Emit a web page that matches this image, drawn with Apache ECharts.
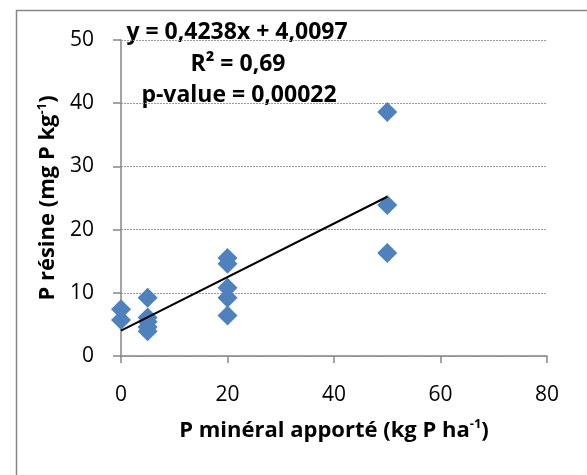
<!DOCTYPE html>
<html>
<head>
<meta charset="utf-8">
<script src="https://cdn.jsdelivr.net/npm/echarts@6/dist/echarts.min.js"></script>
<style>
  html, body { margin: 0; padding: 0; background: #fff; }
  #chart { width: 587px; height: 475px; }
</style>
</head>
<body>
<div id="chart"></div>
<script>
// P minéral apporté (kg P/ha) vs P résine (mg P/kg)
const doses = [0, 0, 5, 5, 5, 5, 5, 20, 20, 20, 20, 20, 50, 50, 50]
const pResine = [7.4, 5.7, 9.2, 6.1, 5.4, 4.6, 3.9, 15.5, 14.6, 10.8, 9.2, 6.4, 38.6, 23.9, 16.3]
const slope = 0.4238
const intercept = 4.0097
const trendX = [0, 50]
const yTicks = [0, 10, 20, 30, 40, 50]
const xTicks = [0, 20, 40, 60, 80]
const notes = ['y = 0,4238x + 4,0097', 'R² = 0,69', 'p-value = 0,00022']

const font = '"Open Sans", sans-serif'
const chart = echarts.init(document.getElementById('chart'))

const titleRich = {
  b: { fontFamily: font, fontWeight: 'bold', fontSize: 22, color: '#000' },
  sup: { fontFamily: font, fontWeight: 'bold', fontSize: 13, color: '#000', padding: [0, 0, 12, 0] },
}

const option = {
  animation: false,
  backgroundColor: '#fff',
  grid: { left: 121, right: 40, top: 40, bottom: 119 },
  xAxis: {
    type: 'value',
    min: xTicks[0],
    max: xTicks[xTicks.length - 1],
    interval: 20,
    name: '{b|P minéral apporté (kg P ha}{sup|-1}{b|)}',
    nameLocation: 'middle',
    nameGap: 62,
    nameTextStyle: { rich: titleRich },
    axisLine: { show: true, lineStyle: { color: '#868686', width: 1.5 } },
    axisTick: { show: true, length: 7, lineStyle: { color: '#868686', width: 1.5 } },
    axisLabel: { fontFamily: font, fontSize: 21, color: '#000', margin: 29 },
    splitLine: { show: false },
  },
  yAxis: {
    type: 'value',
    min: yTicks[0],
    max: yTicks[yTicks.length - 1],
    interval: 10,
    name: '{b|P résine (mg P kg}{sup|-1}{b|)}',
    nameLocation: 'middle',
    nameGap: 58,
    nameTextStyle: { rich: titleRich },
    axisLine: { show: true, lineStyle: { color: '#868686', width: 1.5 } },
    axisTick: { show: true, length: 8, lineStyle: { color: '#868686', width: 1.5 } },
    axisLabel: { fontFamily: font, fontSize: 21, color: '#000', margin: 27 },
    splitLine: { show: true, lineStyle: { color: '#9a9a9a', width: 1, type: [2, 1] } },
  },
  graphic: [
    {
      type: 'rect',
      shape: { x: 16.5, y: 10.5, width: 600, height: 500 },
      style: { fill: 'none', stroke: '#868686', lineWidth: 1.5 },
      silent: true,
    },
    {
      type: 'text', x: 237, y: 32,
      style: { text: notes[0], font: 'bold 23px ' + font, fill: '#000', align: 'center', verticalAlign: 'middle' },
    },
    {
      type: 'text', x: 238, y: 64,
      style: { text: notes[1], font: 'bold 23px ' + font, fill: '#000', align: 'center', verticalAlign: 'middle' },
    },
    {
      type: 'text', x: 239, y: 95,
      style: { text: notes[2], font: 'bold 23px ' + font, fill: '#000', align: 'center', verticalAlign: 'middle' },
    },
  ],
  series: [
    {
      type: 'line',
      data: trendX.map(x => [x, slope * x + intercept]),
      symbol: 'none',
      lineStyle: { color: '#000', width: 2 },
      z: 3,
    },
    {
      type: 'scatter',
      data: doses.map((d, i) => [d, pResine[i]]),
      symbol: 'diamond',
      symbolSize: [20, 20],
      itemStyle: { color: '#4F81BD', opacity: 1 },
      z: 2,
    },
  ],
}

chart.setOption(option)
</script>
</body>
</html>
